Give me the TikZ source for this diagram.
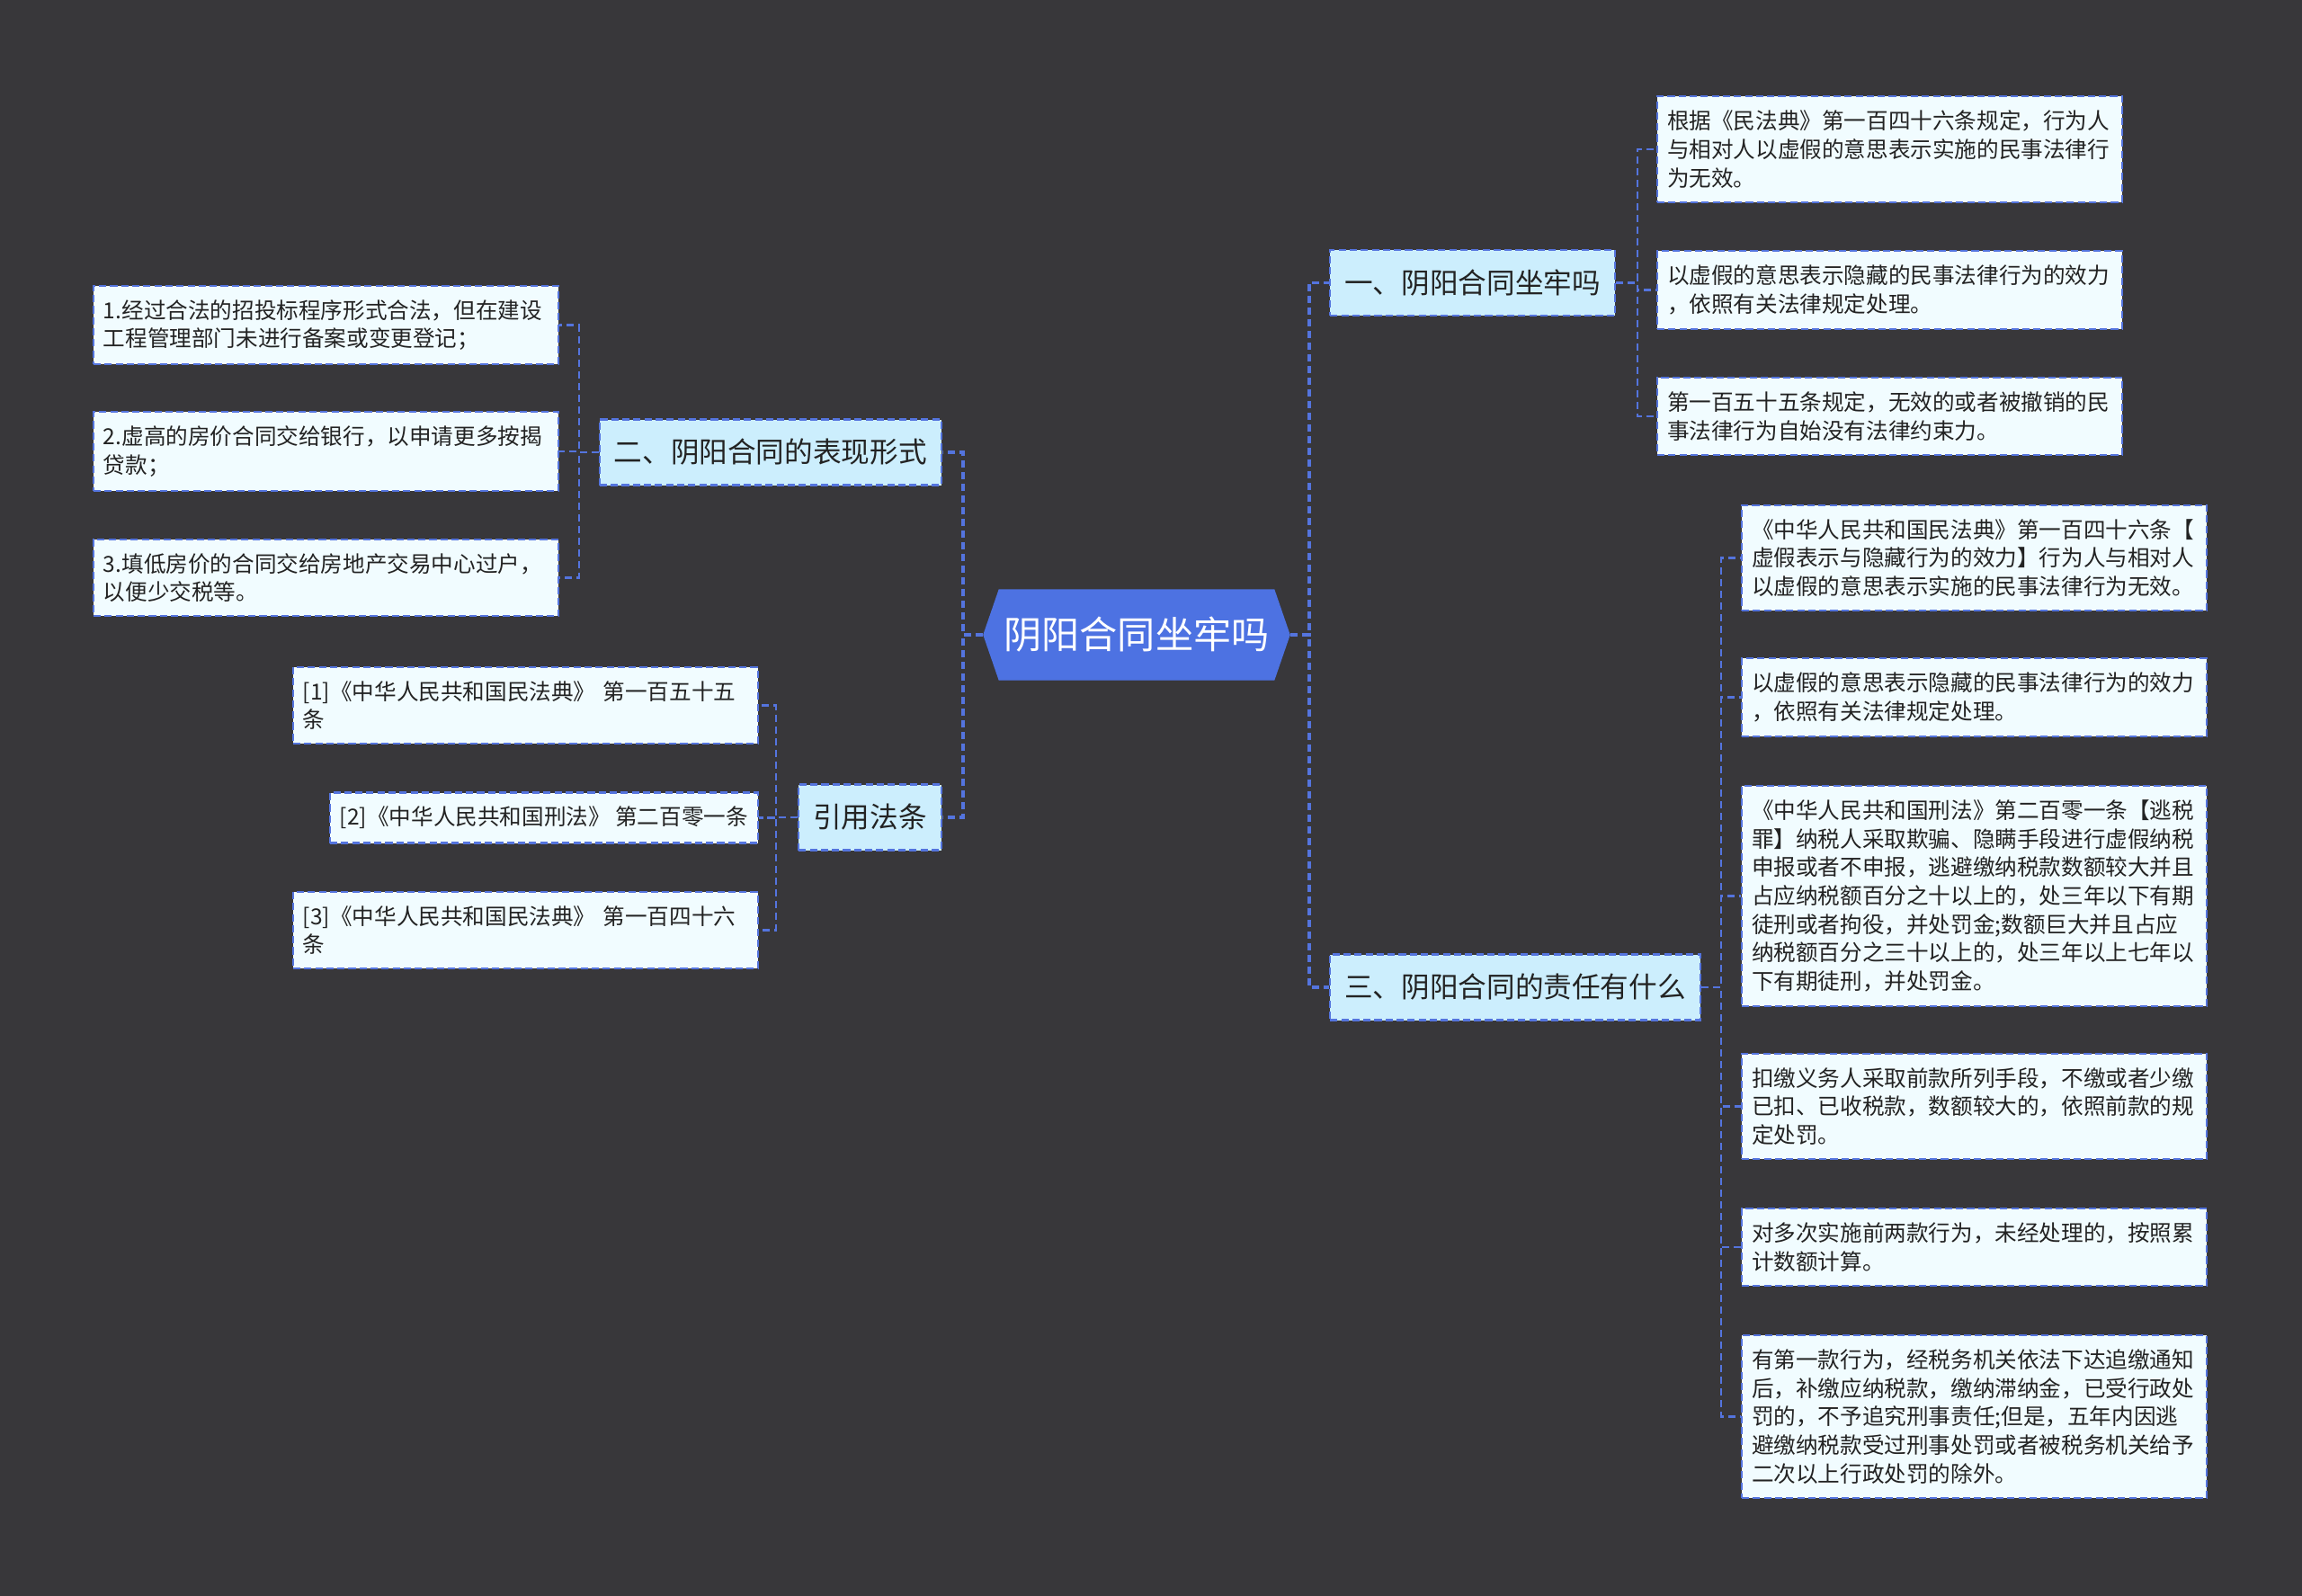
\documentclass[tikz,border=0pt]{standalone}
\usepackage{fontspec}
\setmainfont{Noto Sans CJK SC}
\usetikzlibrary{shapes.symbols}
\definecolor{bgdark}{RGB}{56,55,58}
\definecolor{linkblue}{RGB}{84,116,222}
\definecolor{rootblue}{RGB}{77,114,226}
\definecolor{brfill}{RGB}{204,238,253}
\definecolor{lffill}{RGB}{241,252,255}
\definecolor{inkdark}{RGB}{35,35,35}

\begin{document}
\begin{tikzpicture}[
  link/.style={draw=linkblue,line width=0.6pt,dash pattern=on 2.3pt off 1.4pt},
  trunk/.style={link,line width=1.1pt},
  root/.style={signal,signal to=west and east,signal pointer angle=142,fill=rootblue,draw=rootblue,
    text=white,inner xsep=0.05cm,minimum width=3.4cm,minimum height=1cm,font=\fontsize{12pt}{14pt}\selectfont},
  br/.style={draw=linkblue,line width=0.7pt,dash pattern=on 2.3pt off 1.2pt,fill=brfill,text=inkdark,
    minimum height=0.73cm,inner xsep=0.16cm,font=\fontsize{9pt}{11pt}\selectfont},
  leaf/.style={draw=linkblue,line width=0.6pt,dash pattern=on 2.3pt off 1.2pt,fill=lffill,text=inkdark,
    align=left,inner xsep=0.11cm,inner ysep=0.155cm,font=\fontsize{7pt}{9pt}\selectfont},
  wide/.style={leaf,text width=4.95cm}]
\fill[bgdark] (0,0) rectangle (25.6,-17.75);
\node[root] (root) at (12.64,-7.06) {阴阳合同坐牢吗};
% main branches
\node[br,anchor=west] (b1) at (14.78,-3.145) {一、阴阳合同坐牢吗};
\node[br,anchor=east] (b2) at (10.48,-5.03) {二、阴阳合同的表现形式};
\node[br,anchor=east] (b3) at (10.48,-9.09) {引用法条};
\node[br,anchor=west] (b4) at (14.78,-10.98) {三、阴阳合同的责任有什么};
% leaves of b1
\node[wide,anchor=west] (c1) at (18.42,-1.66) {根据《民法典》第一百四十六条规定，行为人\\与相对人以虚假的意思表示实施的民事法律行\\为无效。};
\node[wide,anchor=west] (c2) at (18.42,-3.225) {以虚假的意思表示隐藏的民事法律行为的效力\\，依照有关法律规定处理。};
\node[wide,anchor=west] (c3) at (18.42,-4.63) {第一百五十五条规定，无效的或者被撤销的民\\事法律行为自始没有法律约束力。};
% leaves of b2
\node[wide,anchor=east] (l1) at (6.22,-3.615) {1.经过合法的招投标程序形式合法，但在建设\\工程管理部门未进行备案或变更登记；};
\node[wide,anchor=east] (l2) at (6.22,-5.02) {2.虚高的房价合同交给银行，以申请更多按揭\\贷款；};
\node[wide,anchor=east] (l3) at (6.22,-6.425) {3.填低房价的合同交给房地产交易中心过户，\\以便少交税等。};
% leaves of b3
\node[wide,anchor=east] (r1) at (8.44,-7.845) {[1]《中华人民共和国民法典》 第一百五十五\\条};
\node[leaf,anchor=east] (r2) at (8.44,-9.095) {[2]《中华人民共和国刑法》 第二百零一条};
\node[wide,anchor=east] (r3) at (8.44,-10.345) {[3]《中华人民共和国民法典》 第一百四十六\\条};
% leaves of b4
\node[wide,anchor=west] (t1) at (19.36,-6.205) {《中华人民共和国民法典》第一百四十六条【\\虚假表示与隐藏行为的效力】行为人与相对人\\以虚假的意思表示实施的民事法律行为无效。};
\node[wide,anchor=west] (t2) at (19.36,-7.755) {以虚假的意思表示隐藏的民事法律行为的效力\\，依照有关法律规定处理。};
\node[wide,anchor=west] (t3) at (19.36,-9.965) {《中华人民共和国刑法》第二百零一条【逃税\\罪】纳税人采取欺骗、隐瞒手段进行虚假纳税\\申报或者不申报，逃避缴纳税款数额较大并且\\占应纳税额百分之十以上的，处三年以下有期\\徒刑或者拘役，并处罚金;数额巨大并且占应\\纳税额百分之三十以上的，处三年以上七年以\\下有期徒刑，并处罚金。};
\node[wide,anchor=west] (t4) at (19.36,-12.305) {扣缴义务人采取前款所列手段，不缴或者少缴\\已扣、已收税款，数额较大的，依照前款的规\\定处罚。};
\node[wide,anchor=west] (t5) at (19.36,-13.87) {对多次实施前两款行为，未经处理的，按照累\\计数额计算。};
\node[wide,anchor=west] (t6) at (19.36,-15.755) {有第一款行为，经税务机关依法下达追缴通知\\后，补缴应纳税款，缴纳滞纳金，已受行政处\\罚的，不予追究刑事责任;但是，五年内因逃\\避缴纳税款受过刑事处罚或者被税务机关给予\\二次以上行政处罚的除外。};
% connectors
\draw[trunk] (root.east) -- ++(0.21,0) |- (b1.west); \draw[trunk] (root.east) -- ++(0.21,0) |- (b4.west);
\draw[trunk] (root.west) -- ++(-0.22,0) |- (b2.east); \draw[trunk] (root.west) -- ++(-0.22,0) |- (b3.east);
\draw[link] (b1.east) -- ++(0.24,0) |- (c1.west); \draw[link] (b1.east) -- ++(0.24,0) |- (c2.west);
\draw[link] (b1.east) -- ++(0.24,0) |- (c3.west);
\draw[link] (b2.west) -- ++(-0.22,0) |- (l1.east); \draw[link] (b2.west) -- ++(-0.22,0) |- (l2.east);
\draw[link] (b2.west) -- ++(-0.22,0) |- (l3.east);
\draw[link] (b3.west) -- ++(-0.24,0) |- (r1.east); \draw[link] (b3.west) -- ++(-0.24,0) |- (r2.east);
\draw[link] (b3.west) -- ++(-0.24,0) |- (r3.east);
\draw[link] (b4.east) -- ++(0.22,0) |- (t1.west); \draw[link] (b4.east) -- ++(0.22,0) |- (t2.west);
\draw[link] (b4.east) -- ++(0.22,0) |- (t3.west); \draw[link] (b4.east) -- ++(0.22,0) |- (t4.west);
\draw[link] (b4.east) -- ++(0.22,0) |- (t5.west); \draw[link] (b4.east) -- ++(0.22,0) |- (t6.west);
\end{tikzpicture}
\end{document}
